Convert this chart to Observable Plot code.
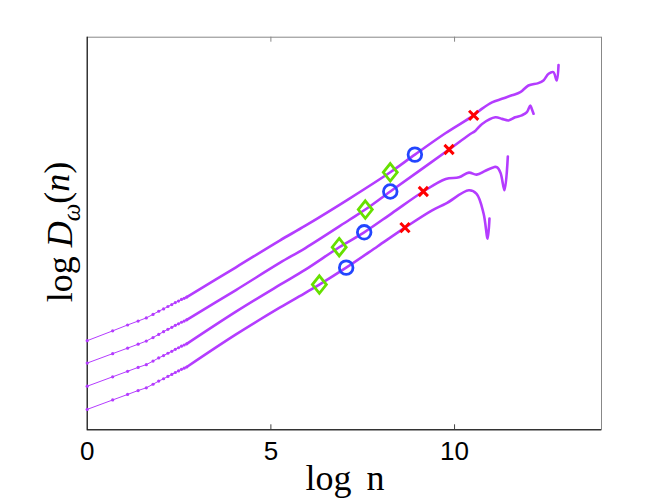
<!DOCTYPE html>
<html><head><meta charset="utf-8">
<script src="https://cdn.jsdelivr.net/npm/d3@7"></script>
<script src="https://cdn.jsdelivr.net/npm/@observablehq/plot@0.6"></script>
<style>body{margin:0;background:#fff}#chart{width:664px;height:498px}</style>
</head><body><div id="chart"></div>
<script>
// log n for n = 1..15 (sparse, dotted part of every curve)
const xEarly = [0, 0.693, 1.099, 1.386, 1.609, 1.792, 1.946, 2.079, 2.197, 2.303, 2.398, 2.485, 2.565, 2.639, 2.708];
const yEarlyA = [2.27, 2.52, 2.67, 2.77, 2.85, 2.94, 3.02, 3.08, 3.14, 3.19, 3.24, 3.28, 3.32, 3.35, 3.38];
const yEarlyB = [1.70, 1.94, 2.08, 2.18, 2.26, 2.35, 2.43, 2.50, 2.56, 2.61, 2.66, 2.70, 2.74, 2.77, 2.80];
const yEarlyC = [1.11, 1.35, 1.49, 1.59, 1.66, 1.75, 1.83, 1.89, 1.95, 2.00, 2.05, 2.09, 2.13, 2.16, 2.19];
const yEarlyD = [0.52, 0.76, 0.90, 1.00, 1.07, 1.16, 1.24, 1.30, 1.36, 1.41, 1.46, 1.50, 1.54, 1.57, 1.60];

// dense part of each curve
const xDenseA = [2.71, 4.05, 5.24, 5.94, 7.14, 8.25, 8.92, 9.76, 10.52, 10.75, 11.02, 11.29, 11.56, 11.79, 12.01, 12.28, 12.42, 12.56, 12.69, 12.78, 12.83];
const yDenseA = [3.38, 4.14, 4.82, 5.20, 5.89, 6.56, 7.01, 7.56, 8.01, 8.18, 8.34, 8.43, 8.52, 8.60, 8.77, 8.83, 8.90, 9.07, 9.11, 8.90, 9.29];
const xDenseB = [2.71, 4.05, 5.24, 5.94, 7.14, 7.57, 8.25, 9.00, 9.85, 10.39, 10.57, 10.75, 11.11, 11.29, 11.47, 11.65, 11.83, 11.97, 12.06, 12.10, 12.15];
const yDenseB = [2.80, 3.56, 4.25, 4.63, 5.35, 5.61, 6.07, 6.57, 7.14, 7.51, 7.62, 7.79, 7.96, 7.92, 7.88, 7.96, 8.01, 8.09, 8.26, 8.18, 8.05];
const xDenseC = [2.71, 4.05, 5.24, 5.94, 6.86, 7.54, 8.30, 9.15, 9.76, 10.12, 10.39, 10.60, 10.84, 11.07, 11.15, 11.25, 11.36, 11.45];
const yDenseC = [2.19, 3.01, 3.69, 4.08, 4.65, 5.03, 5.52, 6.07, 6.39, 6.43, 6.55, 6.50, 6.60, 6.69, 6.69, 6.55, 6.10, 6.96];
const xDenseD = [2.71, 4.05, 5.24, 5.94, 6.32, 7.05, 7.90, 8.65, 9.39, 9.76, 10.39, 10.60, 10.79, 10.90, 10.95];
const yDenseD = [1.60, 2.43, 3.11, 3.49, 3.70, 4.13, 4.67, 5.15, 5.59, 5.76, 6.10, 6.01, 5.51, 4.87, 5.38];

// markers (curves A, B, C, D)
const diamondX = [8.25, 7.57, 6.86, 6.32];
const diamondY = [6.56, 5.61, 4.65, 3.70];
const circleX = [8.92, 8.25, 7.54, 7.05];
const circleY = [7.01, 6.07, 5.03, 4.13];
const crossX = [10.52, 9.85, 9.15, 8.65];
const crossY = [8.01, 7.14, 6.07, 5.15];

const xTicks = [0, 5, 10];
const xTicksInner = [5, 10];

const rows = (xs, ys, id) => xs.map((x, i) => ({x, y: ys[i], id}));
const early = [...rows(xEarly, yEarlyA, "A"), ...rows(xEarly, yEarlyB, "B"), ...rows(xEarly, yEarlyC, "C"), ...rows(xEarly, yEarlyD, "D")];
const dense = [...rows(xDenseA, yDenseA, "A"), ...rows(xDenseB, yDenseB, "B"), ...rows(xDenseC, yDenseC, "C"), ...rows(xDenseD, yDenseD, "D")];
const diamonds = rows(diamondX, diamondY, "d");
const circles = rows(circleX, circleY, "o");
const crosses = rows(crossX, crossY, "x");

const diamondSym = {draw(ctx, size) {
  const s = Math.sqrt(size / Math.PI);
  ctx.moveTo(0, -s * 1.25); ctx.lineTo(s, 0); ctx.lineTo(0, s * 1.25); ctx.lineTo(-s, 0); ctx.closePath();
}};
const crossSym = {draw(ctx, size) {
  const s = Math.sqrt(size / Math.PI);
  ctx.moveTo(-s, -s); ctx.lineTo(s, s); ctx.moveTo(s, -s); ctx.lineTo(-s, s);
}};

const W = 664, H = 498, mL = 86.7, mR = 63, mT = 36.7, mB = 68.7;
const frameH = H - mT - mB;
const purple = "#b43cff";

const plot = Plot.plot({
  width: W, height: H,
  marginLeft: mL, marginRight: mR, marginTop: mT, marginBottom: mB,
  style: {background: "white", color: "black"},
  x: {domain: [0, 14], label: null},
  y: {domain: [0, 10], axis: null, label: null},
  marks: [
    Plot.frame({stroke: "#888"}),
    Plot.ruleX([0], {stroke: "black"}),
    Plot.ruleY([0], {stroke: "black"}),
    Plot.ruleX(xTicksInner, {insetTop: frameH - 5, stroke: "#444"}),
    Plot.ruleX(xTicksInner, {insetBottom: frameH - 5, stroke: "#888"}),
    Plot.axisX(xTicks, {tickSize: 0, tickPadding: 12, fontSize: 26, fontFamily: "Liberation Sans, Arial, sans-serif", label: null}),
    Plot.line(early, {x: "x", y: "y", z: "id", stroke: purple, strokeWidth: 1}),
    Plot.dot(early, {x: "x", y: "y", r: 1.6, fill: purple, stroke: "none"}),
    Plot.line(dense, {x: "x", y: "y", z: "id", stroke: purple, strokeWidth: 2.6, curve: "catmull-rom", strokeLinejoin: "round", strokeLinecap: "round"}),
    Plot.dot(diamonds, {x: "x", y: "y", r: 7, symbol: diamondSym, fill: "none", stroke: "#66e000", strokeWidth: 2.8}),
    Plot.dot(circles, {x: "x", y: "y", r: 6.8, symbol: "circle", fill: "none", stroke: "#2346ff", strokeWidth: 2.8}),
    Plot.dot(crosses, {x: "x", y: "y", r: 4.6, symbol: crossSym, fill: "none", stroke: "#ff0000", strokeWidth: 3})
  ]
});
document.getElementById("chart").appendChild(plot);

const svg = d3.select(plot);
const serif = "Liberation Serif, 'Times New Roman', serif";
// x label
svg.append("text")
  .attr("x", 345).attr("y", 490)
  .attr("text-anchor", "middle")
  .attr("font-family", serif).attr("font-size", 36)
  .attr("word-spacing", 6).attr("fill", "black")
  .text("log n");
// y label
const yl = svg.append("text")
  .attr("transform", "translate(72,232) rotate(-90)")
  .attr("text-anchor", "middle")
  .attr("font-family", serif).attr("font-size", 36).attr("fill", "black");
yl.append("tspan").text("log ");
yl.append("tspan").attr("font-style", "italic").text("D");
yl.append("tspan").attr("font-style", "italic").attr("font-size", 25).attr("dy", "0.3em").text("ω");
yl.append("tspan").attr("dy", "-0.3em").text("(");
yl.append("tspan").attr("font-style", "italic").text("n");
yl.append("tspan").text(")");
</script></body></html>
